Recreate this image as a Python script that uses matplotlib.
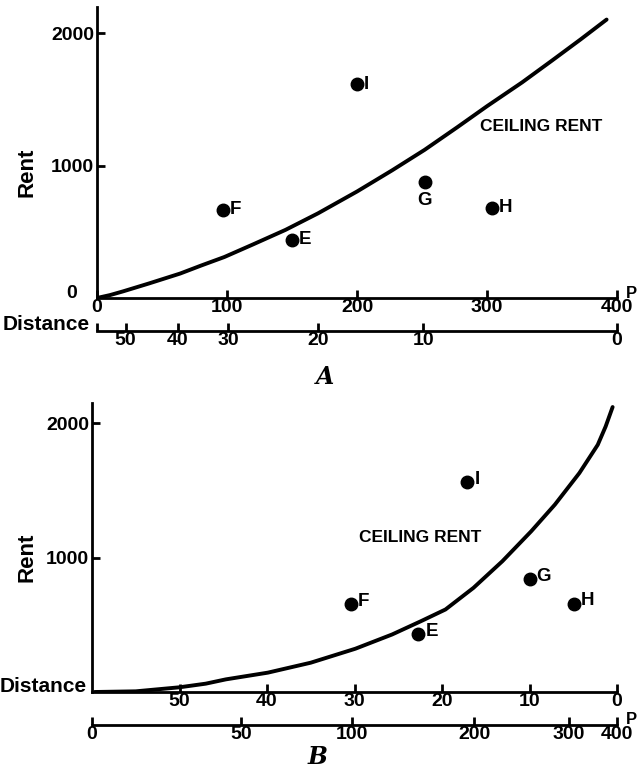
import matplotlib.pyplot as plt
import numpy as np

plt.rcParams['font.family'] = ['Liberation Sans Narrow', 'Liberation Sans', 'DejaVu Sans']
plt.rcParams['font.weight'] = 'bold'

# scales
price_ticks = [0, 100, 200, 300, 400]
dist_ticks = [50, 40, 30, 20, 10, 0]
b_price_ticks = [0, 50, 100, 200, 300, 400]
# distance <-> price pairs
scale_dist = [60, 50, 40, 30, 20, 10, 5, 0]
scale_price = [0, 22, 62, 101, 170, 251, 305, 400]

# panel A: ceiling rent against price
curve_a_price = [0, 10, 20, 40, 64, 80, 98, 120, 145, 170, 200, 227, 252, 277, 300, 327, 350, 372, 392]
curve_a_rent = [0, 22, 50, 110, 185, 245, 310, 405, 515, 640, 805, 965, 1120, 1290, 1450, 1630, 1795, 1955, 2105]
sites = ["E", "F", "G", "H", "I"]
sites_a_price = [150, 97, 252, 304, 200]
sites_a_rent = [440, 669, 878, 682, 1616]

# panel B: ceiling rent against distance
curve_b_dist = [59.7, 55, 50, 47, 44.7, 39.9, 35, 29.9, 25.7, 22.4, 19.6, 16.4, 13.1, 9.8, 7.1,
                4.3, 2.2, 1.3, 0.5]
curve_b_rent = [0, 5, 35, 62, 94, 144, 218, 322, 428, 527, 614, 775, 973, 1196, 1394,
                1629, 1839, 1975, 2120]
sites_b_dist = [22.7, 30.4, 10, 4.9, 17.1]
sites_b_rent = [428, 656, 842, 658, 1560]


def p2d(p):
    return np.interp(p, scale_price, scale_dist)


def d2p(d):
    return np.interp(d, scale_dist[::-1], scale_price[::-1])


W, H = 637, 779
fig = plt.figure(figsize=(W / 100, H / 100), dpi=100)

lw = 2.0
tfs = 14
lfs = 13.5


def style(ax):
    for s in ['top', 'right']:
        ax.spines[s].set_visible(False)
    for s in ['left', 'bottom']:
        ax.spines[s].set_linewidth(lw)
    ax.tick_params(direction='in', length=6, width=lw, labelsize=tfs, pad=1)


# ---- A ----
ax = fig.add_axes([97 / W, 1 - 298 / H, (617 - 97) / W, 291 / H])
style(ax)
ax.plot(curve_a_price, curve_a_rent, color='black', lw=2.8, solid_capstyle='round')
ax.plot(sites_a_price, sites_a_rent, 'o', color='black', ms=9)
for s, x, y in zip(sites, sites_a_price, sites_a_rent):
    if s == "G":
        ax.annotate(s, (x, y), xytext=(0, -7), textcoords='offset points',
                    ha='center', va='top', fontsize=lfs)
    else:
        ax.annotate(s, (x, y), xytext=(5, 0), textcoords='offset points',
                    ha='left', va='center', fontsize=lfs)
ax.text(295, 1300, "CEILING RENT", fontsize=12.5, ha='left', va='center')
ax.set_xlim(0, 400)
ax.set_ylim(0, 2200)
ax.set_xticks(price_ticks)
ax.set_yticks([1000, 2000])
ax.tick_params(axis='y', labelsize=tfs, pad=2)
ax.annotate("0", (0, 0), xytext=(-18, 3), textcoords='offset points',
            ha='center', va='center', fontsize=tfs)
sec = ax.secondary_xaxis(-0.113, functions=(p2d, d2p))
sec.set_xticks(dist_ticks)
sec.set_xticks([60], minor=True)
sec.spines['bottom'].set_linewidth(lw)
sec.tick_params(which='both', direction='in', length=6, width=lw, labelsize=tfs, pad=1)
fig.text(626 / W, 1 - 294 / H, "P", fontsize=12, ha='left', va='center')
fig.text(90 / W, 1 - 324 / H, "Distance", fontsize=15, ha='right', va='center')
fig.text(27 / W, 1 - 172 / H, "Rent", fontsize=16, rotation=90, ha='center', va='center')
fig.text(325 / W, 1 - 377 / H, "A", fontsize=17, family='DejaVu Serif',
         style='italic', ha='center', va='center')

# ---- B ----
ax = fig.add_axes([92 / W, 1 - 692 / H, (617 - 92) / W, 289 / H])
style(ax)
ax.plot(curve_b_dist, curve_b_rent, color='black', lw=2.8, solid_capstyle='round')
ax.plot(sites_b_dist, sites_b_rent, 'o', color='black', ms=9)
for s, x, y in zip(sites, sites_b_dist, sites_b_rent):
    ax.annotate(s, (x, y), xytext=(5, 2), textcoords='offset points',
                ha='left', va='center', fontsize=lfs)
ax.text(29.5, 1150, "CEILING RENT", fontsize=12.5, ha='left', va='center')
ax.set_xlim(60, 0)
ax.set_ylim(0, 2150)
ax.set_xticks(dist_ticks)
ax.set_yticks([1000, 2000])
ax.tick_params(axis='y', labelsize=tfs, pad=2)
sec = ax.secondary_xaxis(-0.114, functions=(d2p, p2d))
sec.set_xticks(b_price_ticks)
sec.spines['bottom'].set_linewidth(lw)
sec.tick_params(direction='in', length=6, width=lw, labelsize=tfs, pad=1)
fig.text(626 / W, 1 - 720 / H, "P", fontsize=12, ha='left', va='center')
fig.text(87 / W, 1 - 686 / H, "Distance", fontsize=15, ha='right', va='center')
fig.text(27 / W, 1 - 557 / H, "Rent", fontsize=16, rotation=90, ha='center', va='center')
fig.text(318 / W, 1 - 757 / H, "B", fontsize=17, family='DejaVu Serif',
         style='italic', ha='center', va='center')

fig.savefig("out.png", dpi=100)
